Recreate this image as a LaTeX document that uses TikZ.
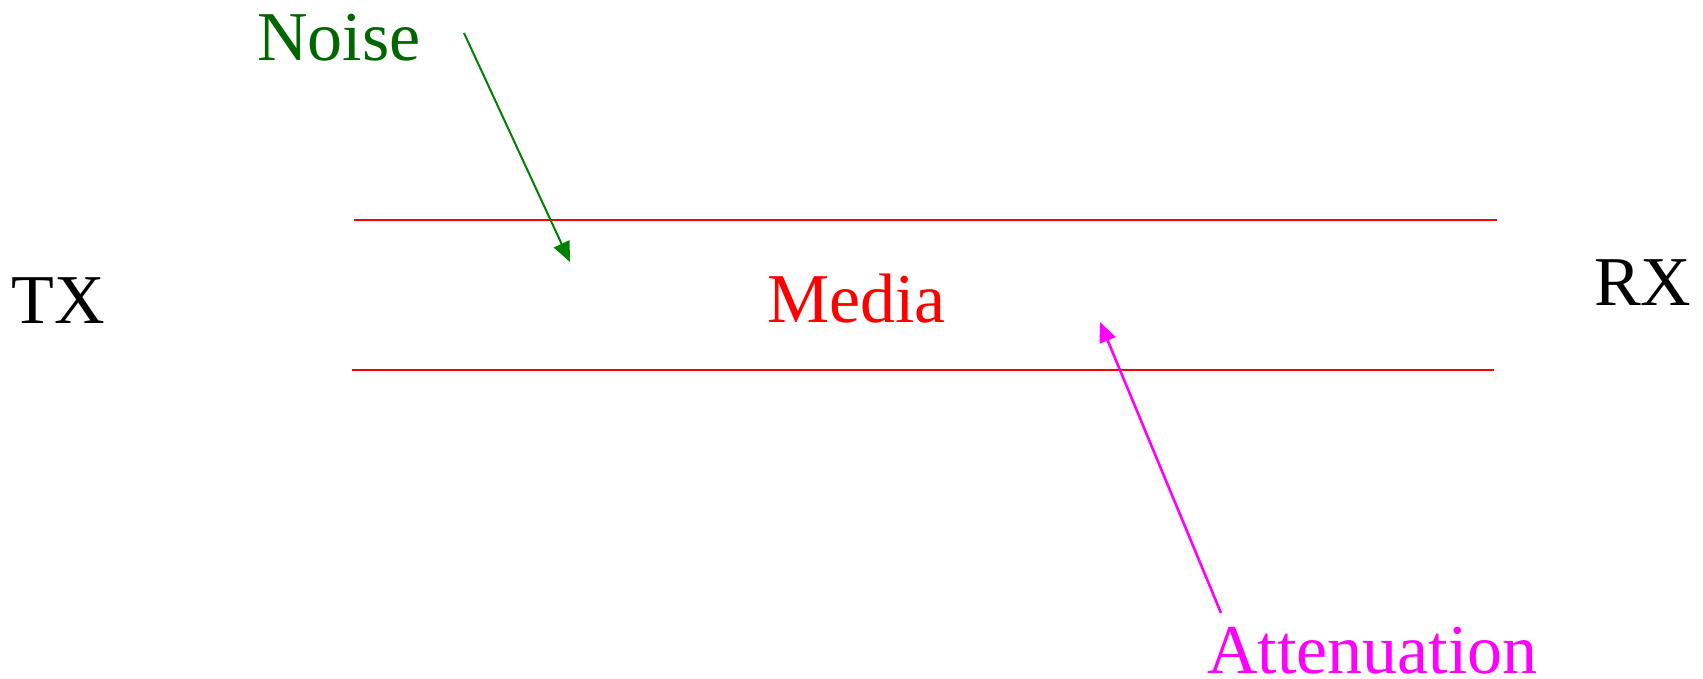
\documentclass[tikz,border=0pt]{standalone}
\usepackage{fontspec}
\setmainfont{Liberation Serif}
\usetikzlibrary{arrows.meta}
\definecolor{noisetext}{RGB}{0,102,0}
\definecolor{noisearrow}{RGB}{0,128,0}
\definecolor{attcol}{RGB}{255,0,255}
\definecolor{medcol}{RGB}{255,0,0}
\begin{document}
\begin{tikzpicture}[x=1pt,y=-1pt,
  lbl/.style={inner sep=0pt,outer sep=0pt,anchor=base west,font=\fontsize{70}{84}\selectfont},
  mediumline/.style={draw=medcol,line width=2.6pt},
  noisearr/.style={draw=noisearrow,line width=2pt,-{Triangle[length=20pt,width=17pt]}},
  attarr/.style={draw=attcol,line width=2.6pt,-{Triangle[length=20pt,width=17pt]}}]
\useasboundingbox (0,0) rectangle (1703,678);
\node[lbl,text=noisetext] (noise) at (257,60) {Noise};
\node[lbl] (tx) at (12,323) {TX};
\node[lbl] (rx) at (1594,305) {RX};
\node[lbl,text=medcol] (media) at (767,322) {Media};
\node[lbl,text=attcol] (att) at (1207,673) {Attenuation};
\coordinate (topL) at (354,220);
\coordinate (topR) at (1497,220);
\coordinate (botL) at (352,370);
\coordinate (botR) at (1494,370);
\draw[mediumline] (topL) -- (topR);
\draw[mediumline] (botL) -- (botR);
\coordinate (nS) at (464,33);
\coordinate (nE) at (570,262);
\coordinate (aS) at (1221,613);
\coordinate (aE) at (1100,322);
\draw[noisearr] (nS) -- (nE);
\draw[attarr] (aS) -- (aE);
\end{tikzpicture}
\end{document}
